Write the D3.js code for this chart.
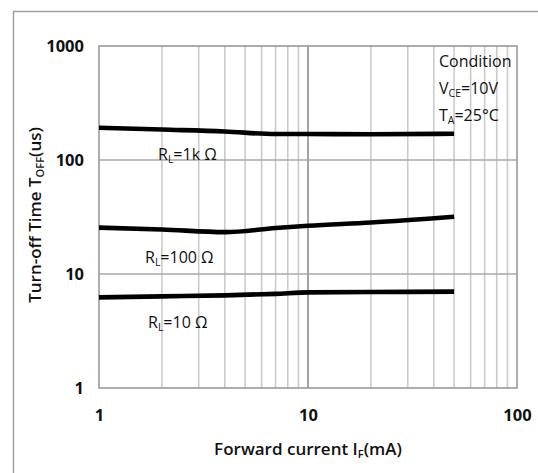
<!DOCTYPE html>
<html>
<head>
<meta charset="utf-8">
<script src="https://cdn.jsdelivr.net/npm/d3@7"></script>
<style>
  body { margin: 0; background: #fff; }
  text { font-family: "Open Sans", "Noto Sans", sans-serif; fill: #111; }
</style>
</head>
<body>
<div id="chart"></div>
<script>
// values
const currents = [1, 2, 4, 7, 10, 20, 50];
const toff1k = [192, 185, 178, 169, 169, 168, 170];
const toff100 = [25.5, 24.6, 23.3, 25.3, 26.5, 28.3, 31.8];
const toff10 = [6.24, 6.37, 6.5, 6.7, 6.9, 6.95, 7.0];
const seriesNames = ["1k", "100", "10"];
const xTickValues = [1, 10, 100];
const yTickValues = [1, 10, 100, 1000];
const conditionLines = ["Condition", "V|CE|=10V", "T|A|=25°C"];

const width = 538;
const height = 473;
const margin = { top: 46, right: 21, bottom: 85, left: 99 };

const svg = d3.select("#chart")
  .append("svg")
  .attr("width", width)
  .attr("height", height);

// outer frame (runs off the picture on the right and bottom)
svg.append("rect")
  .attr("x", 13.5)
  .attr("y", 11.5)
  .attr("width", 600)
  .attr("height", 600)
  .attr("fill", "none")
  .attr("stroke", "#a0a0a0")
  .attr("stroke-width", 1.5);

const xScale = d3.scaleLog()
  .domain([1, 100])
  .range([margin.left, width - margin.right]);

const yScale = d3.scaleLog()
  .domain([1, 1000])
  .range([height - margin.bottom, margin.top]);

const isMajor = v => Math.abs(Math.log10(v) - Math.round(Math.log10(v))) < 1e-9;

// vertical grid
svg.append("g")
  .selectAll("line")
  .data(xScale.ticks().filter(v => v > 1 && v < 100))
  .join("line")
  .attr("x1", d => xScale(d))
  .attr("x2", d => xScale(d))
  .attr("y1", yScale(1000))
  .attr("y2", yScale(1))
  .attr("stroke", d => isMajor(d) ? "#8c8c8c" : "#cbcbcb")
  .attr("stroke-width", 1.6);

// horizontal grid (decades only)
svg.append("g")
  .selectAll("line")
  .data(yTickValues.filter(v => v > 1 && v < 1000))
  .join("line")
  .attr("x1", xScale(1))
  .attr("x2", xScale(100))
  .attr("y1", d => yScale(d))
  .attr("y2", d => yScale(d))
  .attr("stroke", "#a8a8a8")
  .attr("stroke-width", 1.6);

// plot frame
svg.append("rect")
  .attr("x", xScale(1))
  .attr("y", yScale(1000))
  .attr("width", xScale(100) - xScale(1))
  .attr("height", yScale(1) - yScale(1000))
  .attr("fill", "none")
  .attr("stroke", "#999")
  .attr("stroke-width", 1.6);

// axes
const xAxis = d3.axisBottom(xScale).tickValues(xTickValues).tickSize(0).tickFormat(d3.format("d"));
const yAxis = d3.axisLeft(yScale).tickValues(yTickValues).tickSize(0).tickFormat(d3.format("d"));

const xAxisGroup = svg.append("g")
  .attr("transform", `translate(0, ${height - margin.bottom})`)
  .call(xAxis);
xAxisGroup.select(".domain").remove();
xAxisGroup.selectAll("text")
  .attr("y", 33)
  .attr("dy", 0)
  .attr("font-size", 16.5)
  .attr("font-weight", "bold");

const yAxisGroup = svg.append("g")
  .attr("transform", `translate(${margin.left}, 0)`)
  .call(yAxis);
yAxisGroup.select(".domain").remove();
yAxisGroup.selectAll("text")
  .attr("x", -15)
  .attr("font-size", 16.5)
  .attr("font-weight", "bold");

svg.selectAll(".tick text").attr("fill", "#111").style("font-family", "'Open Sans', sans-serif");

// curves
const seriesValues = [toff1k, toff100, toff10];
const line = d3.line()
  .x(d => xScale(d[0]))
  .y(d => yScale(d[1]))
  .curve(d3.curveMonotoneX);

svg.append("g")
  .selectAll("path")
  .data(seriesValues)
  .join("path")
  .attr("d", vals => line(currents.map((c, i) => [c, vals[i]])))
  .attr("fill", "none")
  .attr("stroke", "#000")
  .attr("stroke-width", 4.6)
  .attr("stroke-linecap", "butt");

// curve labels
const labelSpots = [[158, 160], [145, 263], [148, 327.5]];
seriesNames.forEach((name, i) => {
  const t = svg.append("text")
    .attr("x", labelSpots[i][0])
    .attr("y", labelSpots[i][1])
    .attr("font-size", 16);
  t.append("tspan").text("R");
  t.append("tspan").attr("font-size", 10.5).attr("dy", 3).text("L");
  t.append("tspan").attr("dy", -3).text("=" + name + " Ω");
});

// condition note
conditionLines.forEach((s, i) => {
  const parts = s.split("|");
  const t = svg.append("text")
    .attr("x", 439)
    .attr("y", 67 + i * 27)
    .attr("font-size", 16);
  t.append("tspan").text(parts[0]);
  if (parts.length > 1) {
    t.append("tspan").attr("font-size", 10.5).attr("dy", 3).text(parts[1]);
    t.append("tspan").attr("dy", -3).text(parts[2]);
  }
});

// axis titles
const xTitle = svg.append("text")
  .attr("x", (xScale(1) + xScale(100)) / 2)
  .attr("y", 455)
  .attr("text-anchor", "middle")
  .attr("font-size", 17)
  .attr("font-weight", 600);
xTitle.append("tspan").text("Forward current I");
xTitle.append("tspan").attr("font-size", 11).attr("dy", 3).text("F");
xTitle.append("tspan").attr("dy", -3).text("(mA)");

const yTitle = svg.append("text")
  .attr("transform", `translate(41, 215) rotate(-90)`)
  .attr("text-anchor", "middle")
  .attr("font-size", 17)
  .attr("font-weight", 600);
yTitle.append("tspan").text("Turn-off Time  T");
yTitle.append("tspan").attr("font-size", 11).attr("dy", 3).text("OFF");
yTitle.append("tspan").attr("dy", -3).text("(us)");
</script>
</body>
</html>
